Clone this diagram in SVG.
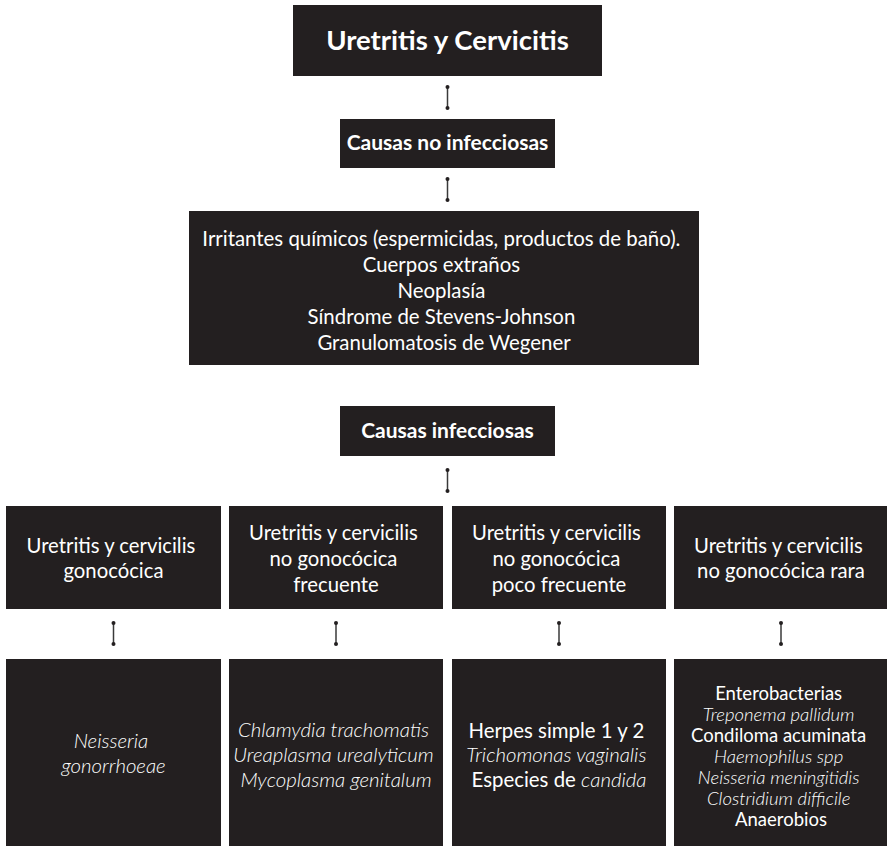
<svg xmlns="http://www.w3.org/2000/svg" width="887" height="846" viewBox="0 0 887 846">
  <style>
    .box { fill: #231f20; }
    .t { fill: #ffffff; font-family: Lato, "Open Sans", sans-serif; text-anchor: middle; }
    .b { font-weight: bold; }
    .i { font-style: italic; font-weight: 300; }
    .lk line { stroke: #3a3a3a; stroke-width: 1.5; }
    .lk circle { fill: #231f20; }
  </style>

  <rect width="887" height="846" fill="#ffffff"/>

  <g id="title">
    <rect class="box" x="293" y="5" width="309" height="71"/>
    <text class="t b" x="447.5" y="50" font-size="27.5">Uretritis y Cervicitis</text>
  </g>

  <g id="no-infecciosas">
    <rect class="box" x="340" y="119" width="215" height="49"/>
    <text class="t b" x="447.5" y="150" font-size="21">Causas no infecciosas</text>
  </g>

  <g id="no-infecciosas-lista">
    <rect class="box" x="189" y="211" width="510" height="154"/>
    <text class="t" font-size="20.4">
      <tspan x="444" y="246">Irritantes químicos (espermicidas, productos de baño).</tspan>
      <tspan x="444" y="272">Cuerpos extraños</tspan>
      <tspan x="444" y="298">Neoplasía</tspan>
      <tspan x="444" y="324">Síndrome de Stevens-Johnson</tspan>
      <tspan x="444" y="350">Granulomatosis de Wegener</tspan>
    </text>
  </g>

  <g id="infecciosas">
    <rect class="box" x="340" y="406" width="215" height="50"/>
    <text class="t b" x="447.5" y="438" font-size="21">Causas infecciosas</text>
  </g>

  <g id="gonococica">
    <rect class="box" x="6" y="506" width="215" height="103"/>
    <text class="t" font-size="20.3">
      <tspan x="113.5" y="553">Uretritis y cervicilis</tspan>
      <tspan x="113.5" y="578">gonocócica</tspan>
    </text>
  </g>

  <g id="no-gonococica-frecuente">
    <rect class="box" x="229" y="506" width="214" height="103"/>
    <text class="t" font-size="20.3">
      <tspan x="336" y="540">Uretritis y cervicilis</tspan>
      <tspan x="336" y="566">no gonocócica</tspan>
      <tspan x="336" y="592">frecuente</tspan>
    </text>
  </g>

  <g id="no-gonococica-poco-frecuente">
    <rect class="box" x="452" y="506" width="214" height="103"/>
    <text class="t" font-size="20.3">
      <tspan x="559" y="540">Uretritis y cervicilis</tspan>
      <tspan x="559" y="566">no gonocócica</tspan>
      <tspan x="559" y="592">poco frecuente</tspan>
    </text>
  </g>

  <g id="no-gonococica-rara">
    <rect class="box" x="674" y="506" width="213" height="103"/>
    <text class="t" font-size="20.3">
      <tspan x="781" y="553">Uretritis y cervicilis</tspan>
      <tspan x="781" y="578">no gonocócica rara</tspan>
    </text>
  </g>

  <g id="agentes-gonococica">
    <rect class="box" x="6" y="659" width="215" height="187"/>
    <text class="t i" font-size="20.4">
      <tspan x="113.5" y="748">Neisseria</tspan>
      <tspan x="113.5" y="773">gonorrhoeae</tspan>
    </text>
  </g>

  <g id="agentes-frecuente">
    <rect class="box" x="229" y="659" width="214" height="187"/>
    <text class="t i" font-size="20.4">
      <tspan x="336" y="737">Chlamydia trachomatis</tspan>
      <tspan x="336" y="762">Ureaplasma urealyticum</tspan>
      <tspan x="336" y="787">Mycoplasma genitalum</tspan>
    </text>
  </g>

  <g id="agentes-poco-frecuente">
    <rect class="box" x="452" y="659" width="214" height="187"/>
    <text class="t" font-size="20.4">
      <tspan x="559" y="738">Herpes simple 1 y 2</tspan>
      <tspan x="559" y="762" class="i">Trichomonas vaginalis</tspan>
      <tspan x="559" y="787">Especies de <tspan class="i">candida</tspan></tspan>
    </text>
  </g>

  <g id="agentes-rara">
    <rect class="box" x="674" y="659" width="213" height="187"/>
    <text class="t" font-size="18.5">
      <tspan x="781" y="700">Enterobacterias</tspan>
      <tspan x="781" y="721" class="i">Treponema pallidum</tspan>
      <tspan x="781" y="742">Condiloma acuminata</tspan>
      <tspan x="781" y="763" class="i">Haemophilus spp</tspan>
      <tspan x="781" y="784" class="i">Neisseria meningitidis</tspan>
      <tspan x="781" y="805" class="i">Clostridium difficile</tspan>
      <tspan x="781" y="826">Anaerobios</tspan>
    </text>
  </g>

  <g id="connectors" class="lk">
    <line x1="447.5" y1="87" x2="447.5" y2="108"/>
    <circle cx="447.5" cy="87" r="2"/><circle cx="447.5" cy="108" r="2"/>
    <line x1="447.5" y1="179" x2="447.5" y2="200"/>
    <circle cx="447.5" cy="179" r="2"/><circle cx="447.5" cy="200" r="2"/>
    <line x1="447.5" y1="470" x2="447.5" y2="491"/>
    <circle cx="447.5" cy="470" r="2"/><circle cx="447.5" cy="491" r="2"/>
    <line x1="113.5" y1="623" x2="113.5" y2="644"/>
    <circle cx="113.5" cy="623" r="2"/><circle cx="113.5" cy="644" r="2"/>
    <line x1="336" y1="623" x2="336" y2="644"/>
    <circle cx="336" cy="623" r="2"/><circle cx="336" cy="644" r="2"/>
    <line x1="559" y1="623" x2="559" y2="644"/>
    <circle cx="559" cy="623" r="2"/><circle cx="559" cy="644" r="2"/>
    <line x1="781" y1="623" x2="781" y2="644"/>
    <circle cx="781" cy="623" r="2"/><circle cx="781" cy="644" r="2"/>
  </g>
</svg>
